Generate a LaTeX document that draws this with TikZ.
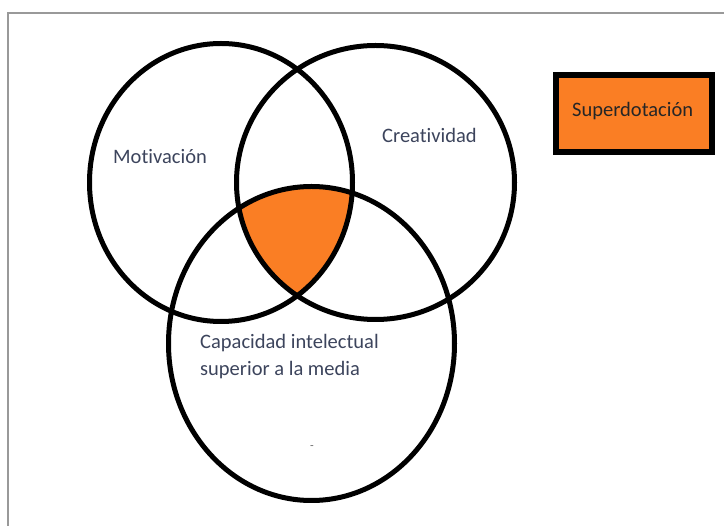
\documentclass[tikz,border=0pt]{standalone}
\usepackage{fontspec}
\setmainfont{Carlito}[Ligatures=NoCommon]
\definecolor{orng}{RGB}{250,126,36}
\definecolor{lbltext}{RGB}{60,68,92}
\begin{document}
\begin{tikzpicture}[x=1pt,y=-1pt,
  ring/.style={line width=5pt},
  lbl/.style={text=lbltext, font=\fontsize{20.5}{27}\selectfont, inner sep=0pt},
  keybox/.style={draw=black, line width=6pt, fill=orng, minimum width=156pt, minimum height=77pt, inner sep=0pt}]
\useasboundingbox (0,0) rectangle (724,526);
\draw[gray!80, line width=2pt] (8,526) -- (8,13) -- (724,13);
% intersection
\begin{scope}
  \clip (221,182.5) ellipse [x radius=131.5, y radius=139];
  \clip (375.5,182.5) ellipse [x radius=139, y radius=137];
  \fill[orng] (311.5,343.5) ellipse [x radius=143, y radius=157];
\end{scope}
\draw[ring] (221,182.5) ellipse [x radius=131.5, y radius=139];
\draw[ring] (375.5,182.5) ellipse [x radius=139, y radius=137];
\draw[ring] (311.5,343.5) ellipse [x radius=143, y radius=157];
% labels
\node[lbl, anchor=base west] (mot) at (113,164) {Motivación};
\node[lbl, anchor=base west] (cre) at (382,143) {Creatividad};
\node[lbl, anchor=base west, align=left] (cap) at (200,376) {Capacidad intelectual\\superior a la media};
\node[text=black!60, font=\fontsize{12}{14}\selectfont, inner sep=0pt] (dot) at (312,448) {-};
% legend
\node[keybox] (key) at (634,113.5) {};
\node[lbl, text=black!85, anchor=base west] (sup) at (572,117) {Superdotación};
\end{tikzpicture}
\end{document}
